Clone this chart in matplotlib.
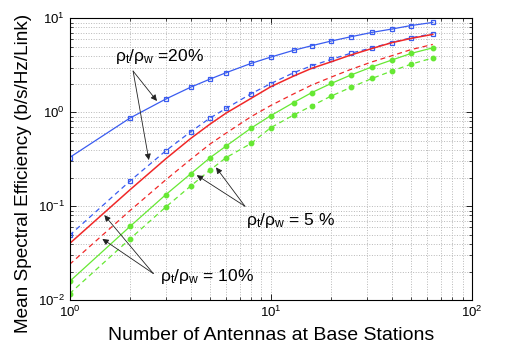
import numpy as np
import matplotlib
matplotlib.use('Agg')
from matplotlib import pyplot as plt
from matplotlib.ticker import NullFormatter, LogLocator

plt.rcParams['font.family'] = ['Liberation Sans', 'DejaVu Sans']
plt.rcParams['mathtext.fontset'] = 'custom'
plt.rcParams['mathtext.rm'] = 'Liberation Sans'
plt.rcParams['mathtext.it'] = 'Liberation Sans'
plt.rcParams['mathtext.bf'] = 'Liberation Sans:bold'

# number of antennas
N = [1, 2, 3, 4, 5, 6, 8, 10, 13, 16, 20, 25, 32, 40, 50, 64]

# rho_t/rho_w = 20%
blue_solid = [0.33, 0.87, 1.38, 1.85, 2.26, 2.64, 3.32, 3.87, 4.57, 5.12, 5.74, 6.37, 7.1, 7.7, 8.4, 9.06]
blue_dash = [0.049, 0.186, 0.387, 0.62, 0.87, 1.10, 1.58, 2.02, 2.64, 3.13, 3.66, 4.25, 4.87, 5.53, 6.22, 6.87]
# rho_t/rho_w = 10%
red_solid = [0.040, 0.150, 0.318, 0.526, 0.75, 0.98, 1.41, 1.87, 2.43, 2.94, 3.45, 4.07, 4.79, 5.51, 6.13, 6.76]
red_dash = [0.024, 0.090, 0.19, 0.315, 0.46, 0.60, 0.90, 1.18, 1.57, 1.95, 2.37, 2.86, 3.45, 4.0, 4.66, 5.28]
# rho_t/rho_w = 5%
green_solid = [0.0158, 0.061, 0.132, 0.221, 0.329, 0.437, 0.68, 0.92, 1.27, 1.62, 2.03, 2.49, 3.05, 3.60, 4.24, 4.86]
green_dash = [0.0117, 0.045, 0.0975, 0.164, 0.243, 0.329, 0.467, 0.685, 0.935, 1.17, 1.49, 1.84, 2.30, 2.75, 3.26, 3.79]

blue = '#3a5cf0'
red = '#f02828'
green = '#66e833'

fig = plt.figure(figsize=(5.19, 3.47), dpi=100)
ax = fig.add_axes([0.134, 0.135, 0.775, 0.812])

ax.plot(N, blue_solid, '-', color=blue, lw=0.9, marker='s', ms=3.5, mfc='none', mew=0.9)
ax.plot(N, blue_dash, '--', color=blue, lw=0.9, dashes=(4, 3), marker='s', ms=3.5, mfc='none', mew=0.9)
ax.plot(N, red_solid, '-', color=red, lw=1.1)
ax.plot(N, red_dash, '--', color=red, lw=0.9, dashes=(4, 3))
ax.plot(N, green_solid, '-', color=green, lw=0.9, marker='o', ms=3.2, mec=green, mfc=green)
ax.plot(N, green_dash, '--', color=green, lw=0.9, dashes=(4, 3), marker='o', ms=3.2, mec=green, mfc=green)

ax.set_xscale('log')
ax.set_yscale('log')
ax.set_xlim(1, 100)
ax.set_ylim(0.01, 10)
ax.xaxis.set_minor_locator(LogLocator(base=10, subs=np.arange(2, 10)))
ax.yaxis.set_minor_locator(LogLocator(base=10, subs=np.arange(2, 10)))
ax.xaxis.set_minor_formatter(NullFormatter())
ax.yaxis.set_minor_formatter(NullFormatter())

ax.grid(True, which='both', color='#b8b8b8', linestyle=':', lw=0.7)
ax.tick_params(which='both', direction='in', top=True, right=True, labelsize=9.5)
ax.tick_params(which='major', length=4.5, width=0.6)
ax.tick_params(which='minor', length=2.5, width=0.5)
for s in ax.spines.values():
    s.set_linewidth(0.8)

ax.set_xlabel('Number of Antennas at Base Stations', fontsize=14, labelpad=5)
ax.set_ylabel('Mean Spectral Efficiency (b/s/Hz/Link)', fontsize=13.7)
ax.yaxis.set_label_coords(-0.094, 0.45)

arr = dict(arrowstyle='-|>', color='#222222', lw=0.6, mutation_scale=9, shrinkA=0, shrinkB=0)

lab = r'ρ$_\mathregular{t}$/ρ$_\mathregular{w}$'
ax.text(1.68, 3.9, lab + ' =20%', fontsize=12.5, ha='left', va='center')
ax.annotate('', xy=(2.72, 1.32), xytext=(2.07, 2.75), arrowprops=arr)
ax.annotate('', xy=(2.48, 0.31), xytext=(2.07, 2.75), arrowprops=arr)

ax.text(7.54, 0.071, lab + ' = 5 %', fontsize=12.5, ha='left', va='center')
ax.annotate('', xy=(4.29, 0.214), xytext=(7.45, 0.1), arrowprops=arr)
ax.annotate('', xy=(5.35, 0.259), xytext=(7.45, 0.1), arrowprops=arr)

ax.text(2.82, 0.0177, lab + ' = 10%', fontsize=12.5, ha='left', va='center')
ax.annotate('', xy=(1.49, 0.0803), xytext=(2.61, 0.0192), arrowprops=arr)
ax.annotate('', xy=(1.456, 0.0449), xytext=(2.61, 0.0192), arrowprops=arr)

fig.savefig('out.png', dpi=100)
